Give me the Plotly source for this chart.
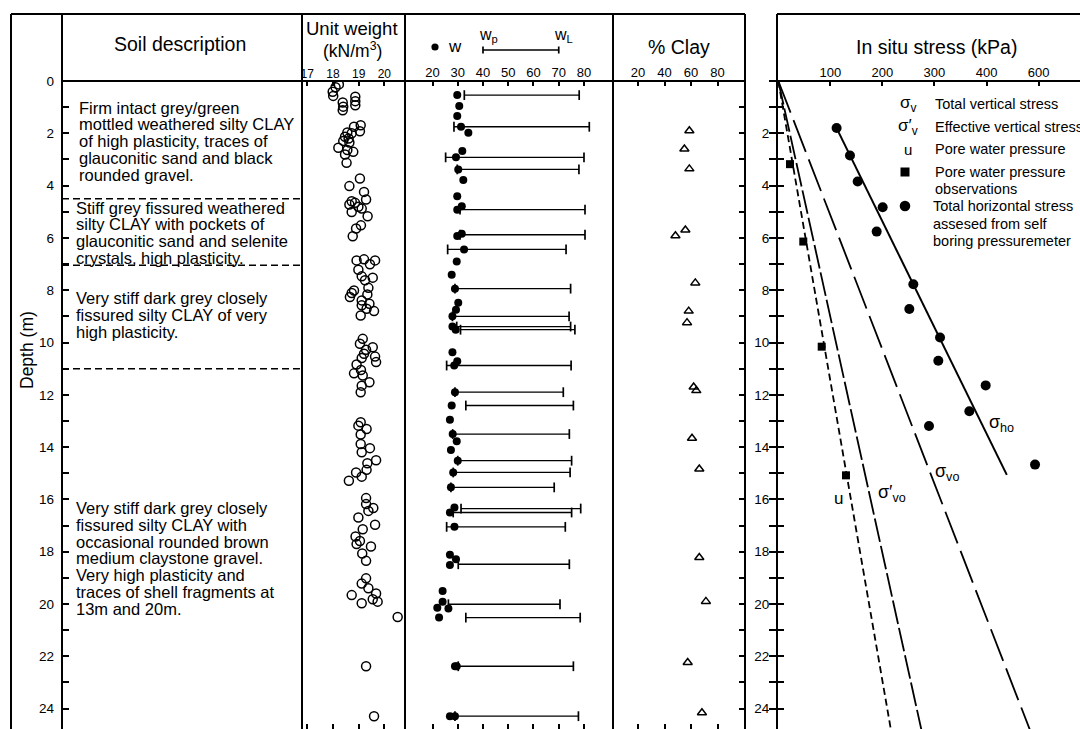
import plotly.graph_objects as go

W, H = 1080, 729
FONT = "Liberation Sans, Arial, Helvetica, sans-serif"

# ---------------- data ----------------
uw_depth = [0.13, 0.24, 0.41, 0.57, 0.82, 0.98, 1.12, 0.60, 0.77, 0.93,
            1.69, 1.75, 1.92, 1.97, 2.00, 2.13, 2.20, 2.29, 2.35, 2.55, 2.64, 2.71, 2.81, 3.13,
            3.73, 4.02, 4.24, 4.60, 4.53, 4.66, 4.72, 4.81, 4.88, 5.01, 5.17, 5.52, 5.64, 5.94,
            6.86, 6.82, 6.86, 7.01, 7.22, 7.47, 7.52, 7.62, 8.01, 7.91, 8.11, 8.26, 8.16, 8.39,
            8.52, 8.58, 8.71, 8.80, 8.97,
            9.86, 10.05, 10.18, 10.28, 10.43, 10.54, 10.75, 10.59, 10.84, 11.05, 11.18, 11.26,
            11.52, 11.65, 11.90,
            13.05, 13.18, 13.31, 13.52, 13.88, 14.04, 14.20, 14.50, 14.62, 14.87, 14.97, 15.13, 15.29,
            15.95, 16.18, 16.33, 16.44, 16.69, 16.97, 17.14, 17.42, 17.59, 17.71, 17.80, 18.07, 18.35,
            19.02, 19.22, 19.40, 19.60, 19.66, 19.82, 19.91, 19.97,
            20.50, 22.38, 24.29]
uw_gamma = [18.23, 18.10, 17.99, 18.01, 18.38, 18.40, 18.38, 18.87, 18.87, 18.87,
            19.08, 18.82, 19.05, 18.56, 18.73, 18.47, 18.61, 18.40, 18.64, 18.21, 18.56, 18.79, 18.47, 18.53,
            19.05, 18.64, 19.21, 18.73, 19.29, 18.86, 18.64, 18.99, 19.12, 18.73, 19.35, 19.09, 18.90, 18.77,
            18.92, 19.21, 19.64, 19.44, 18.99, 19.12, 19.55, 19.25, 18.82, 19.38, 18.73, 18.66, 19.34, 19.12,
            19.42, 19.12, 19.31, 19.60, 19.08,
            19.16, 19.05, 19.55, 19.29, 19.21, 19.64, 19.68, 19.12, 18.92, 19.09, 18.82, 19.16,
            19.42, 19.12, 19.08,
            19.08, 18.99, 19.31, 19.08, 19.08, 19.44, 19.12, 19.68, 19.34, 19.31, 18.90, 19.12, 18.62,
            19.29, 19.29, 19.57, 19.38, 18.99, 19.64, 19.16, 18.88, 19.05, 18.92, 19.48, 19.14, 19.29,
            19.29, 19.12, 19.38, 19.68, 18.73, 19.55, 19.74, 19.12,
            20.52, 19.29, 19.60]

w_depth = [0.54, 0.96, 1.34, 1.75, 1.98, 2.68, 2.92, 3.38, 3.79, 4.41, 4.79, 4.92, 5.84, 5.93,
           6.44, 6.90, 7.41, 7.94, 8.48, 8.75, 9.00, 9.39, 9.51, 10.37, 10.72, 10.88, 11.90,
           12.41, 12.95, 13.50, 13.78, 14.11, 14.52, 14.97, 15.54, 16.31, 16.50, 17.05, 18.12,
           18.29, 18.51, 19.50, 19.91, 20.14, 20.17, 20.52, 22.38, 22.38, 24.29, 24.29]
w_value = [29.8, 30.6, 29.8, 31.3, 34.2, 31.8, 29.3, 30.2, 32.2, 29.8, 31.6, 29.8, 31.6, 29.8,
           32.5, 29.6, 27.6, 28.9, 30.2, 29.3, 27.9, 27.9, 29.2, 27.9, 29.8, 28.6, 28.9,
           27.6, 26.9, 28.0, 29.6, 27.3, 30.0, 28.2, 27.3, 28.7, 26.9, 28.7, 26.9,
           29.3, 26.9, 24.0, 24.0, 21.9, 26.3, 22.6, 28.9, 29.6, 26.9, 28.9]

lim_depth = [0.54, 1.75, 2.92, 3.38, 4.92, 5.88, 6.44, 7.94, 9.00, 9.39, 9.51, 10.88, 11.90,
             12.41, 13.50, 14.52, 14.97, 15.54, 16.35, 16.50, 17.05, 18.48, 20.01, 20.52, 22.38, 24.29]
lim_wp = [32.6, 28.5, 25.2, 29.8, 30.9, 30.9, 26.0, 28.9, 27.9, 29.6, 31.1, 25.6, 28.9,
          33.2, 28.0, 30.0, 28.2, 27.3, 31.3, 28.2, 25.6, 30.2, 26.3, 33.2, 30.2, 28.9]
lim_wl = [78.1, 82.1, 80.0, 78.0, 80.4, 80.4, 72.9, 74.7, 74.1, 74.7, 76.4, 74.9, 71.8,
          75.8, 74.2, 75.1, 74.5, 68.2, 78.7, 75.1, 72.6, 74.2, 70.5, 78.5, 75.8, 77.8]

clay_depth = [1.90, 2.60, 3.36, 5.70, 5.92, 7.72, 8.80, 9.24, 11.70, 11.84, 13.66, 14.84,
              18.22, 19.90, 22.24, 24.16]
clay_pct = [58.75, 55.0, 58.75, 55.75, 48.25, 63.25, 58.25, 57.0, 62.0, 64.0, 60.75, 66.25,
            66.25, 71.25, 57.5, 68.25]

sho_depth = [1.80, 2.85, 3.84, 4.83, 5.76, 7.77, 8.72, 9.81, 10.70, 11.64, 12.63, 13.19, 14.67]
sho_kpa = [112, 137.7, 152.5, 200.5, 189, 259.4, 251.7, 310.7, 307.4, 398.4, 367, 289.5, 493.2]

pwp_obs_depth = [3.18, 6.14, 10.16, 15.08]
pwp_obs_kpa = [22.5, 48, 83.4, 130]

line_depth = [0, 25]
sigma_v_line = [0, 487]
sigma_v_eff_line = [0, 277]
u_line = [0, 218]
sho_line_depth = [1.8, 15.06]
sho_line_kpa = [112, 439]

layer_bounds = [4.5, 7.05, 11.0]

uw_ticks = [17, 18, 19, 20]
w_ticks = [20, 30, 40, 50, 60, 70, 80]
clay_ticks = [20, 40, 60, 80]
stress_tickvals = [100, 200, 300, 400, 500]
stress_ticktext = ["100", "200", "300", "400", "600"]
depth_ticks = list(range(0, 25))

soil_blocks = [
    ["Firm intact grey/green", "mottled weathered silty CLAY", "of high plasticity, traces of",
     "glauconitic sand and black", "rounded gravel."],
    ["Stiff grey fissured weathered", "silty CLAY with pockets of",
     "glauconitic sand and selenite", "crystals, high plasticity."],
    ["Very stiff dark grey closely", "fissured silty CLAY of very", "high plasticity."],
    ["Very stiff dark grey closely", "fissured silty CLAY with", "occasional rounded brown",
     "medium claystone gravel.", "Very high plasticity and", "traces of shell fragments at",
     "13m and 20m."],
]
legend_items = [
    ("σ<sub>v</sub>", ["Total vertical stress"]),
    ("σ′<sub>v</sub>", ["Effective vertical stress"]),
    ("u", ["Pore water pressure"]),
    ("", ["Pore water pressure", "observations"]),
    ("", ["Total horizontal stress", "assesed from self", "boring pressuremeter"]),
]

# ---------------- layout helpers ----------------
def px(x):
    return x / W

def py(y):
    return 1 - y / H

YTOP = py(81)
PXM = 26.15
DMAX = (H - 81) / PXM

fig = go.Figure()

# invisible anchors for empty subplots
fig.add_trace(go.Scatter(x=[None], y=[None], xaxis="x", yaxis="y", showlegend=False))
fig.add_trace(go.Scatter(x=[None], y=[None], xaxis="x5", yaxis="y6", showlegend=False))

# unit weight
fig.add_trace(go.Scatter(x=uw_gamma, y=uw_depth, mode="markers", xaxis="x2", yaxis="y2",
                         marker=dict(symbol="circle-open", size=9, color="black",
                                     line=dict(width=1.5, color="black"))))
# plastic/liquid limit bars
xs, ys = [], []
for d, a, b in zip(lim_depth, lim_wp, lim_wl):
    xs += [a, b, None]
    ys += [d, d, None]
fig.add_trace(go.Scatter(x=xs, y=ys, mode="lines+markers", xaxis="x3", yaxis="y3",
                         line=dict(color="black", width=1.3),
                         marker=dict(symbol="line-ns", size=7, color="black",
                                     line=dict(width=1.7, color="black"))))
# water content
fig.add_trace(go.Scatter(x=w_value, y=w_depth, mode="markers", xaxis="x3", yaxis="y3",
                         marker=dict(symbol="circle", size=8, color="black")))
# clay
fig.add_trace(go.Scatter(x=clay_pct, y=clay_depth, mode="markers", xaxis="x4", yaxis="y4",
                         marker=dict(symbol="triangle-up-open", size=8, color="black",
                                     line=dict(width=1.5, color="black"))))
# stress lines
fig.add_trace(go.Scatter(x=u_line, y=line_depth, mode="lines", xaxis="x5", yaxis="y5",
                         line=dict(color="black", width=1.8, dash="7px,4px")))
fig.add_trace(go.Scatter(x=sigma_v_eff_line, y=line_depth, mode="lines", xaxis="x5", yaxis="y5",
                         line=dict(color="black", width=1.8, dash="24px,4px")))
fig.add_trace(go.Scatter(x=sigma_v_line, y=line_depth, mode="lines", xaxis="x5", yaxis="y5",
                         line=dict(color="black", width=1.8, dash="34px,8px")))
fig.add_trace(go.Scatter(x=sho_line_kpa, y=sho_line_depth, mode="lines", xaxis="x5", yaxis="y5",
                         line=dict(color="black", width=2)))
fig.add_trace(go.Scatter(x=sho_kpa, y=sho_depth, mode="markers", xaxis="x5", yaxis="y5",
                         marker=dict(symbol="circle", size=10, color="black")))
fig.add_trace(go.Scatter(x=pwp_obs_kpa, y=pwp_obs_depth, mode="markers", xaxis="x5", yaxis="y5",
                         marker=dict(symbol="square", size=8, color="black")))

tickfont = dict(family=FONT, size=13, color="black")
common_x = dict(side="top", ticks="inside", ticklen=5, tickwidth=1.5, tickcolor="black",
                showgrid=False, zeroline=False, showline=False, tickfont=tickfont)
common_y = dict(domain=[0, YTOP], range=[DMAX, 0], showgrid=False, zeroline=False,
                showline=False)

depth_text = [str(v) if v % 2 == 0 else "" for v in depth_ticks]
depth_text_r = [str(v) if (v % 2 == 0 and v > 0) else "" for v in depth_ticks]

fig.update_layout(
    width=W, height=H, margin=dict(l=0, r=0, t=0, b=0, autoexpand=False),
    paper_bgcolor="white", plot_bgcolor="rgba(0,0,0,0)", showlegend=False,
    font=dict(family=FONT, color="black"),
    xaxis=dict(domain=[px(62), px(302)], range=[0, 1], visible=False, anchor="y"),
    yaxis=dict(**common_y, anchor="x", side="left", tickvals=depth_ticks, ticktext=depth_text,
               ticks="inside", ticklen=7, tickwidth=1.5, tickcolor="black",
               tickfont=dict(family=FONT, size=13.5, color="black"), ticklabelstandoff=7),
    xaxis2=dict(**common_x, domain=[px(302), px(405)], range=[16.794, 20.806], anchor="y2",
                tickvals=uw_ticks, mirror="ticks", tickfont_size=12),
    yaxis2=dict(**common_y, anchor="x2", visible=False),
    xaxis3=dict(**common_x, domain=[px(405), px(613)], range=[9.11, 91.49], anchor="y3",
                tickvals=w_ticks, mirror="ticks"),
    yaxis3=dict(**common_y, anchor="x3", visible=False),
    xaxis4=dict(**common_x, domain=[px(613), px(745)], range=[1.13, 100.75], anchor="y4",
                tickvals=clay_ticks, mirror="ticks"),
    yaxis4=dict(**common_y, anchor="x4", side="right", tickvals=depth_ticks,
                showticklabels=False, ticks="inside", ticklen=6, tickwidth=1.5, tickcolor="black"),
    xaxis5=dict(**common_x, domain=[px(777), 1.0], range=[-2.5, 579.6], anchor="y5",
                tickvals=stress_tickvals, ticktext=stress_ticktext),
    yaxis5=dict(**common_y, anchor="x5", side="left", tickvals=depth_ticks, ticktext=depth_text_r,
                ticks="outside", ticklen=7, tickwidth=1.5, tickcolor="black", ticklabelstandoff=-3,
                tickfont=dict(family=FONT, size=13.5, color="black")),
    yaxis6=dict(**common_y, anchor="x5", overlaying="y5", side="left", tickvals=depth_ticks,
                showticklabels=False, ticks="inside", ticklen=7, tickwidth=1.5, tickcolor="black"),
)

# ---------------- frame shapes ----------------
shapes = []
def pline(x0, y0, x1, y1, w=2, dash=None):
    d = dict(type="line", xref="paper", yref="paper", x0=px(x0), y0=py(y0), x1=px(x1), y1=py(y1),
             line=dict(color="black", width=w))
    if dash:
        d["line"]["dash"] = dash
    shapes.append(d)

def pmark(kind, cx, cy, r):
    shapes.append(dict(type=kind, xref="paper", yref="paper",
                       x0=px(cx - r), x1=px(cx + r), y0=py(cy + r), y1=py(cy - r),
                       fillcolor="black", line=dict(color="black", width=0)))

pline(11, 14, 745, 14)
pline(11, 14, 11, H)
for xv in [62, 302, 405, 613, 745]:
    pline(xv, 14, xv, H)
pline(62, 81, 745, 81)
pline(777, 14, 1080, 14)
pline(777, 14, 777, H)
pline(777, 81, 1080, 81)

for b in layer_bounds:
    shapes.append(dict(type="line", xref="x", yref="y", x0=0, x1=1, y0=b, y1=b,
                       line=dict(color="black", width=1.5, dash="7px,4px")))

# wp-wL sample bar in header (on the w axis)
shapes.append(dict(type="line", xref="x3", yref="paper", x0=40, x1=70, y0=py(50), y1=py(50),
                   line=dict(color="black", width=1.3)))
for xv in [40, 70]:
    shapes.append(dict(type="line", xref="x3", yref="paper", x0=xv, x1=xv, y0=py(46.5), y1=py(53.5),
                       line=dict(color="black", width=1.7)))

# legend symbols
pmark("circle", 435, 47, 3.6)      # w header dot
pmark("rect", 905, 172, 4.5)       # pore pressure observation
pmark("circle", 905, 206, 5.3)     # total horizontal stress

# ---------------- annotations ----------------
ann = []
def text(x, y, s, size, xanchor="center", angle=0):
    ann.append(dict(xref="paper", yref="paper", x=px(x), y=py(y), text=s, showarrow=False,
                    xanchor=xanchor, yanchor="middle", textangle=angle,
                    font=dict(family=FONT, size=size, color="black")))

text(180, 44, "Soil description", 19.5)
text(352, 29, "Unit weight", 18.5)
text(352, 50, "(kN/m<sup>3</sup>)", 17.5)
text(455, 47, "w", 17)
text(488, 35, "w<sub>p</sub>", 16)
text(563, 35, "w<sub>L</sub>", 16)
text(679, 47, "% Clay", 19.5)
text(936, 47, "In situ stress (kPa)", 19.5)
text(27, 350, "Depth (m)", 17.5, angle=-90)

block_x = [77, 74, 74, 74]
block_y0 = [107.5, 207.5, 298, 508]
for bx, by, lines in zip(block_x, block_y0, soil_blocks):
    for i, s in enumerate(lines):
        text(bx, by + i * 16.8, s, 16.5, xanchor="left")

leg_y = [[104], [127], [149], [172, 188.5], [206, 223.5, 241]]
leg_x = [933, 933, 933, 933, 931]
sym_size = [17, 17, 15, 17, 19]
for (sym, lines), ys_, lx, ss in zip(legend_items, leg_y, leg_x, sym_size):
    if sym:
        text(908, ys_[0], sym, ss)
    for s, yy in zip(lines, ys_):
        text(lx, yy, s, 14.5, xanchor="left")

text(1001, 423, "σ<sub>ho</sub>", 18)
text(947, 472, "σ<sub>vo</sub>", 18)
text(892, 493, "σ′<sub>vo</sub>", 18)
text(838, 498, "u", 17)

fig.update_layout(shapes=shapes, annotations=ann)
fig.write_html("out.html", config={"displayModeBar": False},
               post_script="document.body.style.margin='0px';document.body.style.overflow='hidden';")
